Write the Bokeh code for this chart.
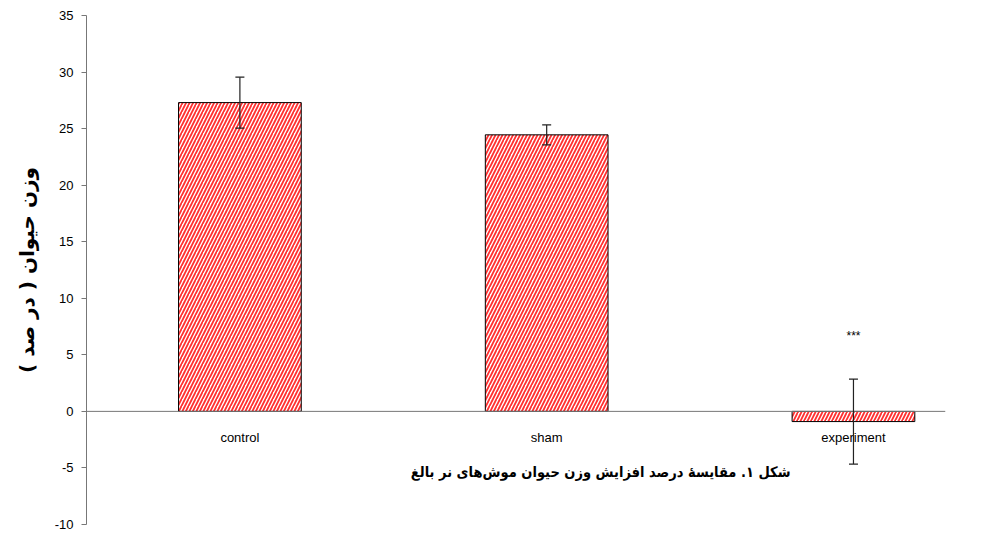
from bokeh.plotting import figure
from bokeh.models import (Range1d, Span, Whisker, TeeHead, ColumnDataSource,
                          Label, FixedTicker, Title)
from bokeh.embed import file_html
from bokeh.resources import INLINE
from bokeh.core.properties import value

categories = ["control", "sham", "experiment"]
means = [27.3, 24.45, -0.9]
errors = [2.25, 0.88, 3.76]
y_ticks = [-10, -5, 0, 5, 10, 15, 20, 25, 30, 35]
significance = ["", "", "***"]
y_label = "وزن حیوان ( در صد )"
caption = "شکل ۱. مقایسهٔ درصد افزایش وزن حیوان موش‌های نر بالغ"

xs = list(range(len(categories)))
src = ColumnDataSource(dict(
    x=xs, top=means,
    upper=[m + e for m, e in zip(means, errors)],
    lower=[m - e for m, e in zip(means, errors)],
))

p = figure(width=968, height=536, output_backend="svg", toolbar_location=None,
           x_range=Range1d(-0.5, 2.3), y_range=Range1d(-10, 35))
p.min_border_left = 86
p.min_border_right = 23
p.min_border_top = 15
p.min_border_bottom = 12
p.outline_line_color = None
p.xgrid.visible = False
p.ygrid.visible = False
p.xaxis.visible = False
p.background_fill_color = "white"
p.border_fill_color = "white"

yax = p.yaxis[0]
yax.ticker = FixedTicker(ticks=y_ticks)
yax.major_label_overrides = {t: str(t) for t in y_ticks}
yax.minor_tick_line_color = None
yax.major_tick_in = 0
yax.major_tick_out = 5
yax.axis_line_color = "#777777"
yax.major_tick_line_color = "#777777"
yax.major_label_text_font = "Liberation Sans"
yax.major_label_text_font_size = "13px"
yax.major_label_text_color = "black"
yax.major_label_standoff = 8

p.add_layout(Title(text=y_label, align="center",
                   text_font="DejaVu Sans", text_font_style="bold",
                   text_font_size="20px", text_color="black", standoff=25), "left")

p.add_layout(Span(location=0, dimension="width", line_color="#777777", line_width=1))

p.vbar(x="x", top="top", bottom=0, width=0.4, source=src,
       fill_color="white", line_color="black", line_width=1,
       hatch_pattern="/", hatch_color="#ff3030", hatch_scale=7, hatch_weight=1.8)

w = Whisker(base="x", upper="upper", lower="lower", source=src,
            line_color="#222222", line_width=1.2, level="annotation",
            upper_head=TeeHead(size=9, line_color="#222222", line_width=1.2),
            lower_head=TeeHead(size=9, line_color="#222222", line_width=1.2))
p.add_layout(w)

p.text(x=xs, y=[-2.3] * 3, text=categories, text_font=value("Liberation Sans"),
       text_font_size="13px", text_align="center", text_baseline="middle",
       text_color="black")

sig_y = [m + e + 3.8 for m, e in zip(means, errors)]
p.text(x=xs, y=sig_y, text=significance, text_font=value("Liberation Sans"),
       text_font_size="12px", text_align="center", text_baseline="middle",
       text_color="black")

p.add_layout(Label(x=1.176, y=-5.4, text=caption, text_font="DejaVu Sans Condensed",
                   text_font_style="bold", text_font_size="14.5px",
                   text_align="center", text_baseline="middle", text_color="black"))

open("out.html", "w").write(file_html(p, INLINE))
